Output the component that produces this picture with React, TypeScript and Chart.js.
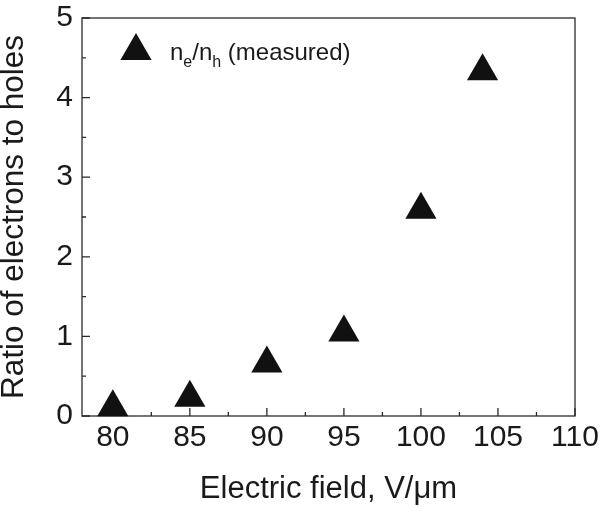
import React, { useEffect, useRef } from 'react';
import { Chart, registerables } from 'chart.js';

Chart.register(...registerables);

// ---- data ----
const fieldValues = [80, 85, 90, 95, 100, 104];
const ratioValues = [0.11, 0.23, 0.66, 1.05, 2.59, 4.33];
const xMajorTicks = [80, 85, 90, 95, 100, 105, 110];
const xMinorTicks = [82.5, 87.5, 92.5, 97.5, 102.5, 107.5];
const yMajorTicks = [0, 1, 2, 3, 4, 5];
const yMinorTicks = [0.5, 1.5, 2.5, 3.5, 4.5];
const xTitle = 'Electric field, V/\u03bcm';
const yTitle = 'Ratio of electrons to holes';
const legendParts = [
  { text: 'n', sub: false },
  { text: 'e', sub: true },
  { text: '/n', sub: false },
  { text: 'h', sub: true },
  { text: ' (measured)', sub: false },
];

const FONT = '"Liberation Sans", Arial, Helvetica, sans-serif';
const INK = '#1a1a1a';

const framePlugin = {
  id: 'frameTicks',
  beforeDatasetsDraw(chart: any) {
    const { ctx, chartArea } = chart;
    const { left, right, top, bottom } = chartArea;
    const xs = chart.scales.x;
    const ys = chart.scales.y;
    ctx.save();
    ctx.strokeStyle = '#2a2a2a';
    ctx.lineWidth = 1.3;
    ctx.strokeRect(left, top, right - left, bottom - top);
    ctx.beginPath();
    xMajorTicks.forEach((v) => {
      const px = xs.getPixelForValue(v);
      ctx.moveTo(px, bottom);
      ctx.lineTo(px, bottom - 8);
    });
    xMinorTicks.forEach((v) => {
      const px = xs.getPixelForValue(v);
      ctx.moveTo(px, bottom);
      ctx.lineTo(px, bottom - 4);
    });
    yMajorTicks.forEach((v) => {
      const py = ys.getPixelForValue(v);
      ctx.moveTo(left, py);
      ctx.lineTo(left + 8, py);
    });
    yMinorTicks.forEach((v) => {
      const py = ys.getPixelForValue(v);
      ctx.moveTo(left, py);
      ctx.lineTo(left + 4, py);
    });
    ctx.stroke();
    ctx.restore();
  },
  afterDraw(chart: any) {
    const { ctx, chartArea } = chart;
    const cx = chartArea.left + 54;
    const cy = chartArea.top + 33;
    const r = 18;
    ctx.save();
    ctx.fillStyle = '#111';
    ctx.beginPath();
    ctx.moveTo(cx, cy - r);
    ctx.lineTo(cx + r * Math.sin((2 * Math.PI) / 3), cy + r / 2);
    ctx.lineTo(cx - r * Math.sin((2 * Math.PI) / 3), cy + r / 2);
    ctx.closePath();
    ctx.fill();
    let x = chartArea.left + 88;
    const base = chartArea.top + 42;
    ctx.fillStyle = INK;
    ctx.textBaseline = 'alphabetic';
    ctx.textAlign = 'left';
    legendParts.forEach((p) => {
      ctx.font = (p.sub ? '16px ' : '24px ') + FONT;
      ctx.fillText(p.text, x, p.sub ? base + 7 : base);
      x += ctx.measureText(p.text).width;
    });
    ctx.restore();
  },
};

export default function App() {
  const canvasRef = useRef<HTMLCanvasElement | null>(null);

  useEffect(() => {
    const canvas = canvasRef.current;
    if (!canvas) return;
    const chart = new Chart(canvas, {
      type: 'scatter',
      data: {
        datasets: [
          {
            label: 'ne/nh (measured)',
            data: fieldValues.map((x, i) => ({ x, y: ratioValues[i] })),
            pointStyle: 'triangle',
            pointRadius: 18,
            pointHoverRadius: 18,
            backgroundColor: '#111',
            borderColor: '#111',
            borderWidth: 0,
            clip: false as any,
          },
        ],
      },
      options: {
        animation: false,
        responsive: false,
        events: [],
        layout: { padding: { top: 13, right: 25, left: 0, bottom: 0 } },
        plugins: {
          legend: { display: false },
          tooltip: { enabled: false },
        },
        scales: {
          x: {
            type: 'linear',
            min: 78,
            max: 110,
            grid: { display: false, drawTicks: false },
            border: { display: false },
            afterBuildTicks: (s: any) => {
              s.ticks = xMajorTicks.map((v) => ({ value: v }));
            },
            afterFit: (s: any) => {
              s.height = 92;
              s.paddingLeft = 0;
              s.paddingRight = 0;
            },
            ticks: {
              color: INK,
              padding: 4,
              maxRotation: 0,
              autoSkip: false,
              font: { family: FONT, size: 30 },
            },
            title: {
              display: true,
              text: xTitle,
              color: INK,
              padding: 0,
              font: { family: FONT, size: 31 },
            },
          },
          y: {
            type: 'linear',
            min: 0,
            max: 5,
            grid: { display: false, drawTicks: false },
            border: { display: false },
            afterBuildTicks: (s: any) => {
              s.ticks = yMajorTicks.map((v) => ({ value: v }));
            },
            afterFit: (s: any) => {
              s.width = 82;
              s.paddingTop = 0;
              s.paddingBottom = 0;
            },
            ticks: {
              color: INK,
              padding: 9,
              autoSkip: false,
              font: { family: FONT, size: 30 },
            },
            title: {
              display: true,
              text: yTitle,
              color: INK,
              padding: 0,
              font: { family: FONT, size: 31.5, lineHeight: 0.88 },
            },
          },
        },
      },
      plugins: [framePlugin],
    });
    return () => chart.destroy();
  }, []);

  return (
    <div style={{ position: 'fixed', left: 0, top: 0, width: 600, height: 508, background: '#fff' }}>
      <canvas ref={canvasRef} width={600} height={508} style={{ display: 'block' }} />
    </div>
  );
}
